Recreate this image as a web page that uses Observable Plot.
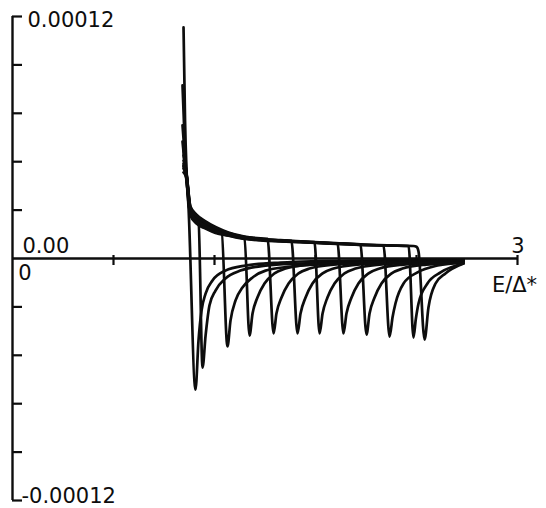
<!DOCTYPE html>
<html><head><meta charset="utf-8">
<script src="https://cdn.jsdelivr.net/npm/d3@7"></script>
<script src="https://cdn.jsdelivr.net/npm/@observablehq/plot@0.6"></script>
<style>html,body{margin:0;padding:0;background:#fff}svg{display:block}</style>
</head><body><div id="chart"></div>
<script>
// Axis settings
const xDomain = [0, 3];
const yDomain = [-0.00012, 0.00012];
const xTicks = [0.6, 1.2, 1.8, 2.4, 3];
const yTicks = [-0.00012, -0.000096, -0.000072, -0.000048, -0.000024, 0.000024, 0.000048, 0.000072, 0.000096, 0.00012];
const yLabelTop = "0.00012";
const yLabelZero = "0.00";
const yLabelBottom = "-0.00012";
const xLabelZero = "0";
const xLabelEnd = "3";
const xTitle = "E/Δ*";

// Curves: [E/Δ*, value in units of 1e-6]
const valueUnit = 1e-6;
const curve1 = [[1.016,114.6],[1.025,68.4],[1.034,43.6],[1.046,24.8],[1.087,-65.0],[1.105,-40.7],[1.123,-25.8],[1.147,-17.4],[1.188,-10.9],[1.265,-6.0],[1.384,-3.5],[1.592,-2.0],[2.008,-1.0],[2.679,-0.7]];
const curve2 = [[1.010,85.8],[1.025,53.6],[1.034,39.7],[1.051,24.3],[1.069,20.8],[1.105,18.4],[1.129,-54.1],[1.147,-38.2],[1.170,-23.3],[1.206,-15.9],[1.265,-9.9],[1.354,-6.0],[1.503,-3.5],[1.711,-2.5],[2.186,-1.5],[2.679,-1.0]];
const curve3 = [[1.010,66.0],[1.028,46.1],[1.040,33.7],[1.057,23.3],[1.087,19.8],[1.147,16.9],[1.188,14.9],[1.242,13.4],[1.277,-43.6],[1.295,-30.8],[1.325,-20.8],[1.366,-14.4],[1.426,-9.4],[1.503,-6.0],[1.652,-4.0],[1.889,-2.5],[2.305,-1.5],[2.679,-1.0]];
const curve4 = [[1.010,58.0],[1.028,42.7],[1.046,29.8],[1.063,22.3],[1.099,18.4],[1.147,15.9],[1.206,13.9],[1.283,11.9],[1.378,10.4],[1.408,-38.2],[1.426,-27.3],[1.455,-19.3],[1.497,-12.4],[1.556,-7.4],[1.622,-5.0],[1.764,-3.0],[2.002,-2.0],[2.305,-1.5],[2.679,-1.0]];
const curve5 = [[1.016,53.6],[1.034,42.2],[1.057,25.8],[1.093,21.8],[1.147,18.4],[1.206,15.6],[1.283,12.9],[1.378,10.9],[1.473,10.0],[1.515,9.8],[1.551,-37.2],[1.568,-27.3],[1.598,-19.3],[1.640,-12.4],[1.699,-7.4],[1.764,-5.0],[1.907,-3.0],[2.145,-2.0],[2.424,-1.5],[2.679,-1.0]];
const curve6 = [[1.016,51.1],[1.034,41.7],[1.057,24.8],[1.093,20.8],[1.147,17.6],[1.206,15.0],[1.283,12.5],[1.378,10.6],[1.473,9.7],[1.592,9.1],[1.657,8.8],[1.693,-37.2],[1.711,-27.3],[1.741,-19.3],[1.782,-12.4],[1.842,-7.4],[1.907,-5.0],[2.050,-3.0],[2.287,-2.0],[2.543,-1.5],[2.679,-1.0]];
const curve7 = [[1.016,48.6],[1.034,41.2],[1.057,23.8],[1.093,19.8],[1.147,16.9],[1.206,14.4],[1.283,12.2],[1.378,10.4],[1.473,9.5],[1.592,8.9],[1.711,8.4],[1.794,8.1],[1.824,-37.2],[1.842,-27.3],[1.871,-19.3],[1.913,-12.4],[1.972,-7.4],[2.038,-5.0],[2.180,-3.0],[2.418,-2.0],[2.679,-1.2]];
const curve8 = [[1.016,46.1],[1.034,40.7],[1.057,22.8],[1.093,18.8],[1.147,16.0],[1.206,13.7],[1.283,11.9],[1.378,10.2],[1.473,9.4],[1.592,8.8],[1.711,8.3],[1.889,7.6],[1.931,7.5],[1.966,-37.2],[1.984,-27.3],[2.014,-19.3],[2.055,-12.4],[2.115,-7.4],[2.180,-5.0],[2.323,-3.0],[2.543,-2.0],[2.679,-1.5]];
const curve9 = [[1.016,44.6],[1.034,40.2],[1.057,21.8],[1.093,17.8],[1.147,15.2],[1.206,13.0],[1.283,11.5],[1.378,9.9],[1.473,9.2],[1.592,8.6],[1.711,8.2],[1.889,7.5],[2.067,6.9],[2.103,-37.7],[2.121,-27.3],[2.151,-19.3],[2.192,-12.4],[2.252,-7.4],[2.317,-5.0],[2.459,-3.0],[2.679,-2.0]];
const curve10 = [[1.016,42.7],[1.034,39.7],[1.057,21.3],[1.093,17.3],[1.147,14.8],[1.206,12.6],[1.283,11.3],[1.378,9.7],[1.473,9.0],[1.592,8.5],[1.711,8.1],[1.889,7.4],[2.067,6.8],[2.204,6.4],[2.240,-38.7],[2.258,-29.0],[2.275,-22.3],[2.323,-12.4],[2.406,-6.9],[2.525,-3.5],[2.679,-2.0]];
const curve11 = [[1.016,47.0],[1.034,40.9],[1.057,23.1],[1.093,19.0],[1.147,16.1],[1.206,13.6],[1.283,11.8],[1.378,10.1],[1.473,9.3],[1.592,8.7],[1.711,8.2],[1.889,7.5],[2.067,6.8],[2.246,6.4],[2.353,6.2],[2.382,-39.2],[2.396,-30.0],[2.412,-22.3],[2.465,-12.4],[2.543,-6.9],[2.679,-2.5]];
const curve12 = [[1.016,45.5],[1.034,41.5],[1.057,25.3],[1.093,21.2],[1.147,18.0],[1.206,15.2],[1.283,12.6],[1.378,10.6],[1.473,9.6],[1.592,9.0],[1.711,8.5],[1.889,7.8],[2.067,7.0],[2.246,6.5],[2.382,6.2],[2.400,5.8],[2.412,3.5],[2.448,-40.2],[2.471,-24.3],[2.513,-12.4],[2.572,-7.4],[2.679,-2.5]];

const curves = [curve1, curve2, curve3, curve4, curve5, curve6, curve7, curve8, curve9, curve10, curve11, curve12];
const data = curves.flatMap((pts, i) => pts.map(([e, v]) => ({curve: i + 1, e, v: v * valueUnit})));

const ink = "#0d0d0d";
const font = {fontFamily: "DejaVu Sans", fontSize: 21, fill: ink};

const chart = Plot.plot({
  width: 546,
  height: 508,
  marginLeft: 12,
  marginRight: 29,
  marginTop: 16,
  marginBottom: 8,
  x: {domain: xDomain, axis: null},
  y: {domain: yDomain, axis: null},
  marks: [
    Plot.ruleX([0], {stroke: ink, strokeWidth: 2.4}),
    Plot.ruleY([0], {stroke: ink, strokeWidth: 2.4}),
    Plot.ruleY(yTicks, {y: d => d, x1: 0, x2: 0, insetLeft: 0, insetRight: -10, stroke: ink, strokeWidth: 2.2}),
    Plot.ruleX(xTicks, {x: d => d, y1: 0, y2: 0, insetTop: -3, insetBottom: -7, stroke: ink, strokeWidth: 2.2}),
    Plot.line(data, {x: "e", y: "v", z: "curve", curve: "monotone-x", stroke: ink, strokeWidth: 2.7}),
    Plot.text([yDomain[1]], {x: 0, y: d => d, text: () => yLabelTop, dx: 15, dy: 3.5, textAnchor: "start", ...font}),
    Plot.text([0], {x: 0, y: d => d, text: () => yLabelZero, dx: 10, dy: -12.5, textAnchor: "start", ...font}),
    Plot.text([yDomain[0]], {x: 0, y: d => d, text: () => yLabelBottom, dx: 9, dy: -4.5, textAnchor: "start", ...font}),
    Plot.text([0], {x: d => d, y: 0, text: () => xLabelZero, dx: 12.5, dy: 14.5, ...font}),
    Plot.text([xDomain[1]], {x: d => d, y: 0, text: () => xLabelEnd, dx: 0.5, dy: -12, ...font}),
    Plot.text([xDomain[1]], {x: d => d, y: 0, text: () => xTitle, dx: -3, dy: 27, ...font})
  ]
});
document.getElementById("chart").appendChild(chart);
</script>
</body></html>
